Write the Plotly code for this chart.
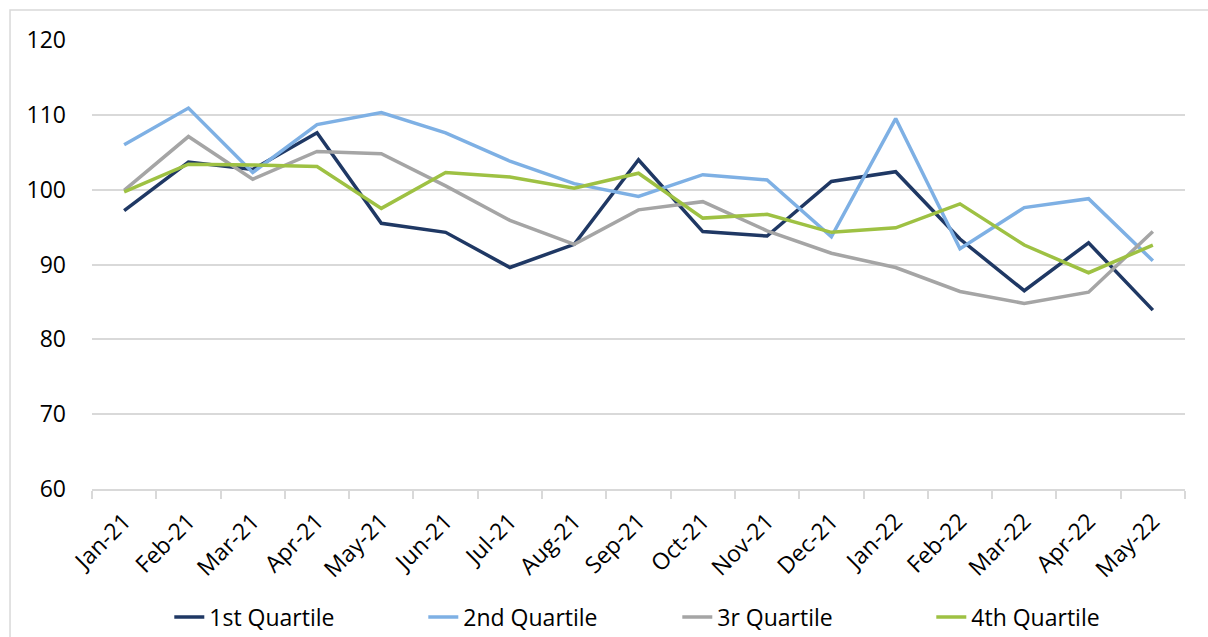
import plotly.graph_objects as go

months = ["Jan-21", "Feb-21", "Mar-21", "Apr-21", "May-21", "Jun-21", "Jul-21", "Aug-21",
          "Sep-21", "Oct-21", "Nov-21", "Dec-21", "Jan-22", "Feb-22", "Mar-22", "Apr-22", "May-22"]

q1 = [97.2, 103.7, 102.7, 107.6, 95.5, 94.3, 89.6, 92.7, 104.0, 94.4, 93.8, 101.1, 102.4, 93.4, 86.5, 92.9, 83.9]
q2 = [106.0, 110.9, 102.3, 108.7, 110.3, 107.6, 103.8, 100.8, 99.1, 102.0, 101.3, 93.7, 109.5, 92.1, 97.6, 98.8, 90.5]
q3 = [99.9, 107.1, 101.4, 105.1, 104.8, 100.5, 95.9, 92.7, 97.3, 98.4, 94.5, 91.5, 89.6, 86.4, 84.8, 86.3, 94.4]
q4 = [99.7, 103.4, 103.3, 103.1, 97.5, 102.3, 101.7, 100.2, 102.2, 96.2, 96.7, 94.3, 94.9, 98.1, 92.6, 88.9, 92.6]

series_names = ["1st Quartile", "2nd Quartile", "3r Quartile", "4th Quartile"]
series_colors = ["#1F3864", "#7EB0E4", "#A5A5A5", "#9EC143"]

FONT = "Open Sans"
FS = 23

fig = go.Figure()
for name, vals, col in zip(series_names, [q1, q2, q3, q4], series_colors):
    fig.add_trace(go.Scatter(x=months, y=vals, mode="lines", name=name,
                             line=dict(color=col, width=3.5)))

fig.update_layout(
    width=1208, height=637,
    margin=dict(l=92, r=23, t=40, b=148, autoexpand=False),
    paper_bgcolor="white", plot_bgcolor="white",
    font=dict(family=FONT, size=FS, color="#000000"),
    showlegend=True,
    legend=dict(orientation="h", x=0.5355, xanchor="center", y=-0.285, yanchor="middle",
                entrywidth=209, itemwidth=30, font=dict(size=FS, family=FONT)),
    shapes=[dict(type="rect", xref="paper", yref="paper",
                 x0=-0.075, x1=1.2, y0=-0.6, y1=1.0668,
                 line=dict(color="#D9D9D9", width=1.5), layer="below")],
)
fig.update_xaxes(type="category", range=[-0.5, 16.5], showgrid=False, automargin=False,
                 showline=True, linecolor="#D9D9D9", linewidth=1.5,
                 ticks="outside", tickson="boundaries", ticklen=8, tickcolor="#D9D9D9",
                 tickwidth=1.5, tickangle=-45, ticklabelstandoff=8,
                 tickfont=dict(size=FS, family=FONT))
fig.update_yaxes(range=[60, 120], dtick=10, showgrid=True, gridcolor="#D9D9D9", gridwidth=1.5,
                 zeroline=False, showline=False, ticks="", ticklabelstandoff=25, automargin=False,
                 tickfont=dict(size=FS, family=FONT))

fig.write_html("out.html", config={"displayModeBar": False},
               post_script="document.body.style.margin='0';document.body.style.overflow='hidden';")
